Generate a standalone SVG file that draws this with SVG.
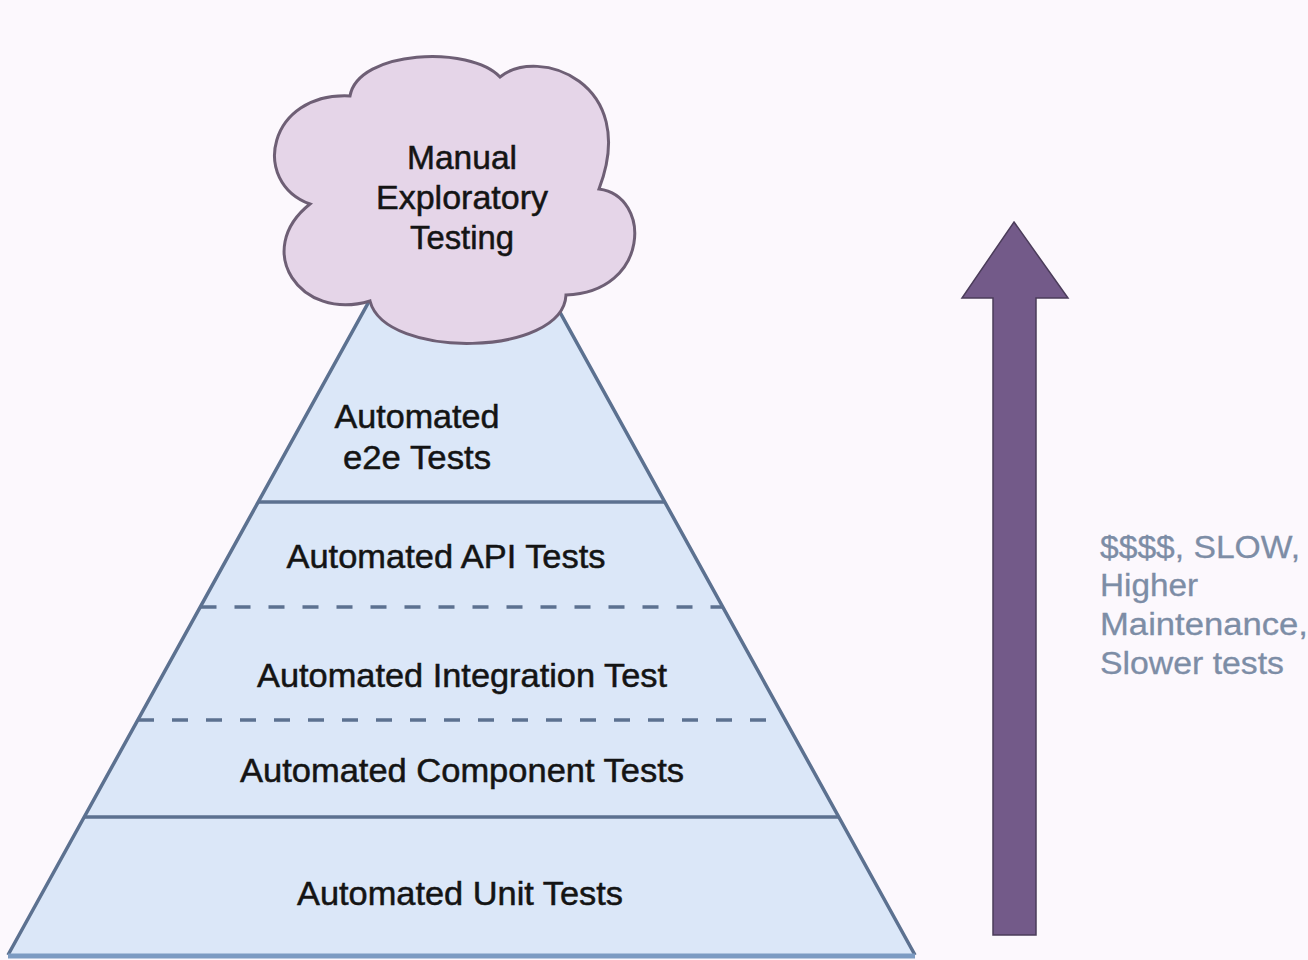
<svg xmlns="http://www.w3.org/2000/svg" width="1308" height="960" viewBox="0 0 1308 960">
<style>
.t{font-family:"Liberation Sans",Arial,sans-serif;font-size:33px;fill:#141414;stroke:#141414;stroke-width:0.5;text-anchor:middle}
.r{font-family:"Liberation Sans",Arial,sans-serif;font-size:31px;fill:#7d8da6;stroke:#7d8da6;stroke-width:0.3}
.layer{fill:#dbe7f8;stroke:none}
.edge{fill:none;stroke:#5c7190;stroke-width:3.5}
.dash{stroke-dasharray:16 18}
</style>
<rect x="0" y="0" width="1308" height="960" fill="#fcf8fd"/>
<g id="layer-unit">
<polygon class="layer" points="84.5,817 838.5,817 915,955 8,955"/>
<text class="t" x="460" y="905" textLength="326" lengthAdjust="spacingAndGlyphs">Automated Unit Tests</text>
</g>
<g id="layer-component">
<polygon class="layer" points="138,720 785,720 838.5,817 84.5,817"/>
<text class="t" x="462" y="782" textLength="444" lengthAdjust="spacingAndGlyphs">Automated Component Tests</text>
</g>
<g id="layer-integration">
<polygon class="layer" points="200.5,607 722.5,607 785,720 138,720"/>
<text class="t" x="462" y="687" textLength="410" lengthAdjust="spacingAndGlyphs">Automated Integration Test</text>
</g>
<g id="layer-api">
<polygon class="layer" points="258.5,502 664.5,502 722.5,607 200.5,607"/>
<text class="t" x="446" y="568" textLength="319" lengthAdjust="spacingAndGlyphs">Automated API Tests</text>
</g>
<g id="layer-e2e">
<polygon class="layer" points="461.5,134 664.5,502 258.5,502"/>
<text class="t" x="417" y="428" textLength="165" lengthAdjust="spacingAndGlyphs">Automated</text>
<text class="t" x="417" y="469" textLength="148" lengthAdjust="spacingAndGlyphs">e2e Tests</text>
</g>
<g id="connectors">
<path class="edge" d="M461.5,134 L8,955 M461.5,134 L915,955"/>
<line class="edge" x1="258.5" y1="502" x2="664.5" y2="502"/>
<line class="edge dash" x1="200.5" y1="607" x2="722.5" y2="607"/>
<line class="edge dash" x1="138" y1="720" x2="785" y2="720"/>
<line class="edge" x1="84.5" y1="817" x2="838.5" y2="817"/>
<line x1="8" y1="956" x2="915" y2="956" stroke="#7c9bc2" stroke-width="5"/>
</g>
<g id="cloud">
<path d="M350,96 C358,50 470,45 500,77 C538,46 640,82 599,189 C652,196 650,292 566,295 C563,357 385,360 370,301 C300,322 252,250 310,204 C250,182 268,92 350,96 Z" fill="#e5d5e8" stroke="#6e5f75" stroke-width="3"/>
<text class="t" x="462" y="169" textLength="110" lengthAdjust="spacingAndGlyphs">Manual</text>
<text class="t" x="462" y="209" textLength="172" lengthAdjust="spacingAndGlyphs">Exploratory</text>
<text class="t" x="462" y="249" textLength="104" lengthAdjust="spacingAndGlyphs">Testing</text>
</g>
<g id="arrow">
<path d="M1014,222 L1068,298 L1036,298 L1036,935 L993,935 L993,298 L962,298 Z" fill="#735a89" stroke="#4b3c5a" stroke-width="1.5"/>
</g>
<g id="cost-label">
<text class="r" x="1100" y="558" textLength="200" lengthAdjust="spacingAndGlyphs">$$$$, SLOW,</text>
<text class="r" x="1100" y="596" textLength="98" lengthAdjust="spacingAndGlyphs">Higher</text>
<text class="r" x="1100" y="635" textLength="208" lengthAdjust="spacingAndGlyphs">Maintenance,</text>
<text class="r" x="1100" y="674" textLength="184" lengthAdjust="spacingAndGlyphs">Slower tests</text>
</g>
</svg>
